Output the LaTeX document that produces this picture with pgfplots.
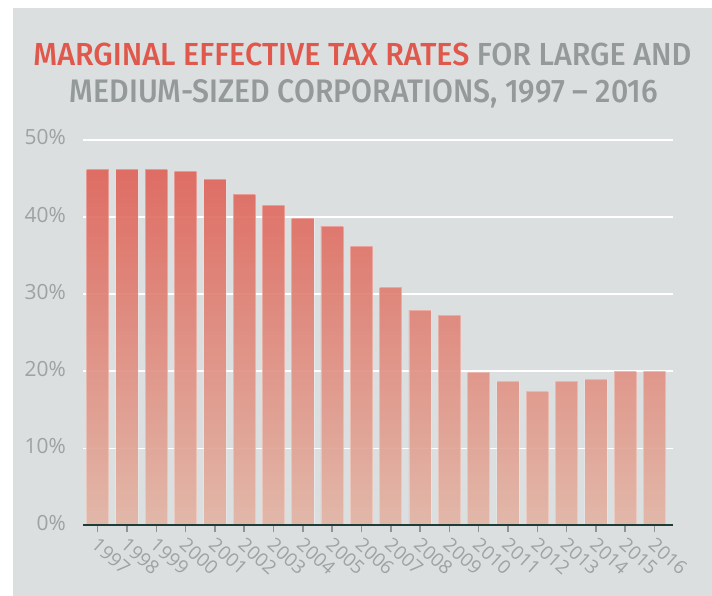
\documentclass[border=0pt]{standalone}
\usepackage{graphicx}
\usepackage{pgfplots}
\pgfplotsset{compat=1.18}
\usepackage{fontspec}
\setmainfont{Open Sans}
\newfontfamily\titlefont{Fira Sans Medium}
\definecolor{bg}{HTML}{DCDFE0}
\definecolor{axisc}{HTML}{1E3C38}
\definecolor{tickc}{HTML}{8F9595}
\definecolor{labc}{HTML}{9DA2A2}
\definecolor{tred}{HTML}{E0574B}
\definecolor{tgray}{HTML}{949A99}
\definecolor{bartop}{HTML}{DF5A50}
\definecolor{barbot}{HTML}{E2B4A4}
\begin{document}
\begin{tikzpicture}
\path[use as bounding box] (0,0) rectangle (712bp,596bp);
\fill[white] (0,0) rectangle (712bp,596bp);
\fill[bg] (13bp,0) rectangle (712bp,588bp);
\node[anchor=base, inner sep=0pt] at (362.5bp,530.5bp) {\resizebox{658bp}{22.5bp}{\titlefont\color{tred}MARGINAL EFFECTIVE TAX RATES \color{tgray}FOR LARGE AND}};
\node[anchor=base, inner sep=0pt] at (364bp,493bp) {\resizebox{588bp}{23bp}{\titlefont\color{tgray}MEDIUM-SIZED CORPORATIONS, 1997 – 2016}};
\begin{axis}[
  width=590bp, height=385.5bp, scale only axis,
  anchor=south west, at={(83bp,70.5bp)},
  xmin=-0.5, xmax=19.63, ymin=0, ymax=50,
  axis x line*=bottom, axis y line*=left,
  x axis line style={draw=none}, y axis line style={draw=none},
  xtick={0,...,19},
  xticklabels={1997,1998,1999,2000,2001,2002,2003,2004,2005,2006,2007,2008,2009,2010,2011,2012,2013,2014,2015,2016},
  ytick={0,10,20,30,40,50},
  yticklabels={0\%,10\%,20\%,30\%,40\%,50\%},
  ymajorgrids, grid style={white, line width=1.7bp},
  tick align=outside, major tick length=7bp,
  xtick style={draw=tickc, line width=1.5bp},
  ytick style={draw=none},
  xticklabel style={font=\fontsize{19}{19}\selectfont, text=labc, inner sep=0pt, xshift=2bp, yshift=-4bp, rotate=-42, anchor=north west},
  yticklabel style={font=\fontsize{21}{21}\selectfont, text=labc, inner sep=0pt, anchor=east, xshift=-10bp, yshift=2.5bp},
  clip=false,
  barst/.style={ybar, bar shift=0pt, bar width=0.76, fill opacity=0.9, draw=white, draw opacity=0.3, line width=0.8bp, bottom color=barbot},
]
\addplot[barst, top color=bartop!92.4!barbot] coordinates {(0,46.2)};
\addplot[barst, top color=bartop!92.4!barbot] coordinates {(1,46.2)};
\addplot[barst, top color=bartop!92.4!barbot] coordinates {(2,46.2)};
\addplot[barst, top color=bartop!91.8!barbot] coordinates {(3,45.9)};
\addplot[barst, top color=bartop!89.8!barbot] coordinates {(4,44.9)};
\addplot[barst, top color=bartop!85.8!barbot] coordinates {(5,42.9)};
\addplot[barst, top color=bartop!83!barbot] coordinates {(6,41.5)};
\addplot[barst, top color=bartop!79.6!barbot] coordinates {(7,39.8)};
\addplot[barst, top color=bartop!77.6!barbot] coordinates {(8,38.8)};
\addplot[barst, top color=bartop!72.4!barbot] coordinates {(9,36.2)};
\addplot[barst, top color=bartop!61.8!barbot] coordinates {(10,30.9)};
\addplot[barst, top color=bartop!55.8!barbot] coordinates {(11,27.9)};
\addplot[barst, top color=bartop!54.6!barbot] coordinates {(12,27.3)};
\addplot[barst, top color=bartop!39.8!barbot] coordinates {(13,19.9)};
\addplot[barst, top color=bartop!37.4!barbot] coordinates {(14,18.7)};
\addplot[barst, top color=bartop!34.8!barbot] coordinates {(15,17.4)};
\addplot[barst, top color=bartop!37.4!barbot] coordinates {(16,18.7)};
\addplot[barst, top color=bartop!38!barbot] coordinates {(17,19.0)};
\addplot[barst, top color=bartop!40!barbot] coordinates {(18,20.0)};
\addplot[barst, top color=bartop!40!barbot] coordinates {(19,20.0)};
\draw[axisc, line width=2bp] (rel axis cs:0,0) -- (rel axis cs:1,0);
\end{axis}
\end{tikzpicture}
\end{document}
